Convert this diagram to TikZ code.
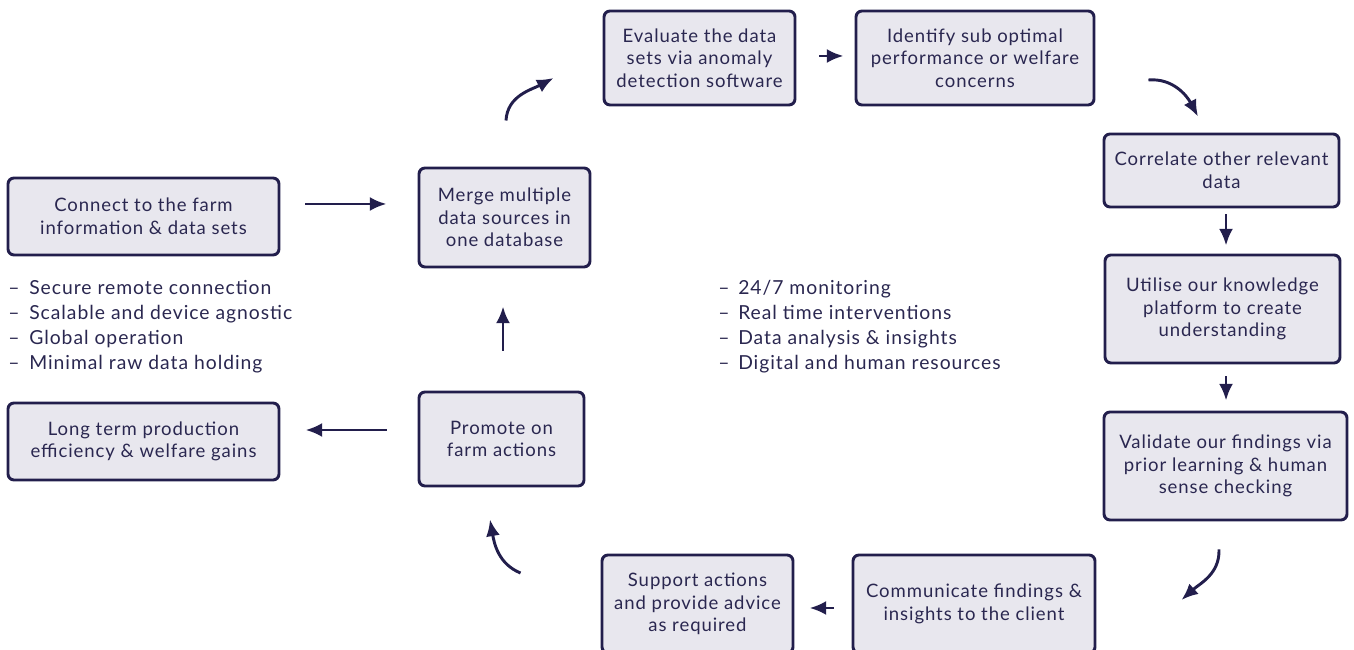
\documentclass[tikz,border=0pt]{standalone}
\usepackage{fontspec}
\setmainfont[LetterSpace=5]{Lato}
\usetikzlibrary{arrows.meta,calc}
\definecolor{navy}{HTML}{221E4C}
\definecolor{boxfill}{HTML}{E8E7EE}
\definecolor{txt}{HTML}{2A2750}
\begin{document}
\begin{tikzpicture}[x=0.75pt,y=0.75pt,
  every node/.style={text=txt,font=\fontsize{13.9pt}{17pt}\selectfont},
  stepbox/.style={draw=navy,fill=boxfill,line width=2.2pt,rounded corners=4.5pt,align=center,inner sep=0pt},
  arr/.style={draw=navy,line width=2.2pt,-{Latex[length=12.5pt,width=10.5pt]}},
  bullets/.style={anchor=north west,align=left,inner sep=0pt,font=\fontsize{14.5pt}{18.75pt}\selectfont}]
\useasboundingbox (0,0) rectangle (1354,650);
% boxes (y up: Y = 650 - y)
\node[stepbox,minimum width=271*0.75pt,minimum height=77*0.75pt] (conn) at (143.5,433.5) {Connect to the farm\\information \& data sets};
\node[stepbox,minimum width=171*0.75pt,minimum height=99*0.75pt] (merge) at (504.5,432.5) {Merge multiple\\data sources in\\one database};
\node[stepbox,minimum width=191*0.75pt,minimum height=94*0.75pt] (eval) at (699.5,592) {Evaluate the data\\sets via anomaly\\detection software};
\node[stepbox,minimum width=238*0.75pt,minimum height=94*0.75pt] (ident) at (975,592) {Identify sub optimal\\performance or welfare\\concerns};
\node[stepbox,minimum width=235*0.75pt,minimum height=73*0.75pt] (corr) at (1221.5,479.5) {Correlate other relevant\\data};
\node[stepbox,minimum width=235*0.75pt,minimum height=108*0.75pt] (util) at (1222.5,341) {Utilise our knowledge\\platform to create\\understanding};
\node[stepbox,minimum width=243*0.75pt,minimum height=108*0.75pt] (valid) at (1225.5,184) {Validate our findings via\\prior learning \& human\\sense checking};
\node[stepbox,minimum width=242*0.75pt,minimum height=98*0.75pt] (comm) at (974,46) {Communicate findings \&\\insights to the client};
\node[stepbox,minimum width=191*0.75pt,minimum height=98*0.75pt] (supp) at (697.5,46) {Support actions\\and provide advice\\as required};
\node[stepbox,minimum width=165*0.75pt,minimum height=94*0.75pt] (prom) at (501.5,211) {Promote on\\farm actions};
\node[stepbox,minimum width=271*0.75pt,minimum height=77*0.75pt] (long) at (143.5,208.5) {Long term production\\efficiency \& welfare gains};
% bullet lists
\node[bullets] (left) at (8,370) {\makebox[21\dimexpr0.75pt\relax][l]{–}Secure remote connection\\
\makebox[21\dimexpr0.75pt\relax][l]{–}Scalable and device agnostic\\
\makebox[21\dimexpr0.75pt\relax][l]{–}Global operation\\
\makebox[21\dimexpr0.75pt\relax][l]{–}Minimal raw data holding};
\node[bullets] (mid) at (718,370) {\makebox[20\dimexpr0.75pt\relax][l]{–}24/7 monitoring\\
\makebox[20\dimexpr0.75pt\relax][l]{–}Real time interventions\\
\makebox[20\dimexpr0.75pt\relax][l]{–}Data analysis \& insights\\
\makebox[20\dimexpr0.75pt\relax][l]{–}Digital and human resources};
% connectors
\draw[arr] ($(conn.east)+(25,12.5)$) -- ($(merge.west)+(-31,13.5)$);
\draw[arr] ($(merge.north)+(1.5,46)$) to[out=87,in=208] ($(eval.west)+(-49,-20)$);
\draw[arr] ($(eval.east)+(23,2)$) -- ($(ident.west)+(-11,2)$);
\draw[arr] ($(ident.east)+(53,-22)$) to[out=5,in=118] ($(corr.north)+(-23.5,16)$);
\draw[arr] ($(corr.south)+(4.5,-6)$) -- ($(util.north)+(3.5,8)$);
\draw[arr] ($(util.south)+(3.5,-12)$) -- ($(valid.north)+(0.5,10)$);
\draw[arr] ($(valid.south)+(-6.5,-28)$) to[out=-88,in=42] ($(comm.east)+(85,4)$);
\draw[arr] ($(comm.west)+(-18,-4)$) -- ($(supp.east)+(15,-4)$);
\draw[arr] ($(supp.west)+(-80,31)$) to[out=158,in=-80] ($(prom.south)+(-11.5,-32)$);
\draw[arr] ($(prom.north)+(1.5,40)$) -- ($(merge.south)+(-1.5,-38)$);
\draw[arr] ($(prom.west)+(-31,9)$) -- ($(long.east)+(25,11.5)$);
\end{tikzpicture}
\end{document}
